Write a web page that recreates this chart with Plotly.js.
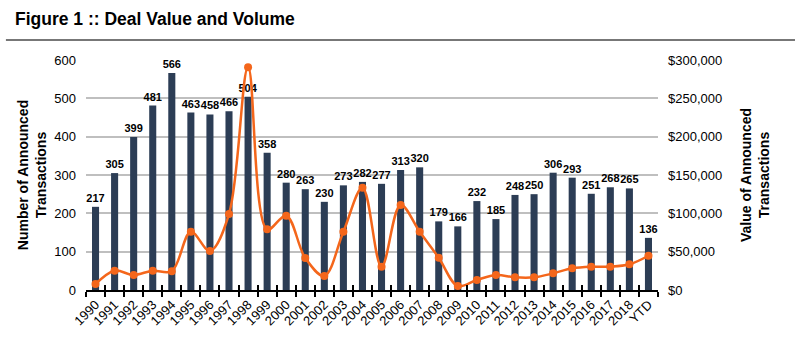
<!DOCTYPE html>
<html>
<head>
<meta charset="utf-8">
<script src="https://cdn.plot.ly/plotly-3.0.1.min.js"></script>
<style>html,body{margin:0;padding:0;background:#fff;}#chart{width:809px;height:361px;}</style>
</head>
<body>
<div id="chart"></div>
<script>
var categories = ["1990","1991","1992","1993","1994","1995","1996","1997","1998","1999","2000","2001","2002","2003","2004","2005","2006","2007","2008","2009","2010","2011","2012","2013","2014","2015","2016","2017","2018","YTD"];
var dealCount = [217,305,399,481,566,463,458,466,504,358,280,263,230,273,282,277,313,320,179,166,232,185,248,250,306,293,251,268,265,136];
var dealValue = [7800,25200,19600,25200,24500,76000,50900,99100,290500,79100,96900,41700,18300,76000,133400,30400,110900,76000,42100,5200,13000,19600,16500,16500,21700,28300,30400,30400,33500,44700];
var leftTicks = [0,100,200,300,400,500,600];
var rightTicks = [0,50000,100000,150000,200000,250000,300000];
var rightTickText = ["$0","$50,000","$100,000","$150,000","$200,000","$250,000","$300,000"];

var navy = "#2c3d55";
var orange = "#f4661b";

var traces = [
  {
    type: "bar", x: categories, y: dealCount, marker: {color: navy},
    text: dealCount.map(String), textposition: "outside", cliponaxis: false, constraintext: "none",
    textfont: {family: "Liberation Sans, Arial", size: 11, color: "#000", weight: "bold"},
    hoverinfo: "none", xaxis: "x", yaxis: "y"
  },
  {
    type: "scatter", mode: "lines+markers", x: categories, y: dealValue,
    line: {color: orange, width: 2.5, shape: "spline", smoothing: 1},
    marker: {color: orange, size: 8},
    cliponaxis: false, hoverinfo: "none", xaxis: "x", yaxis: "y2"
  }
];

var tickFont = {family: "Liberation Sans, Arial", size: 13, color: "#000"};
var layout = {
  width: 809, height: 361,
  margin: {l: 86, r: 151, t: 60, b: 71},
  paper_bgcolor: "#fff", plot_bgcolor: "#fff",
  showlegend: false,
  bargap: 0.63,
  title: {text: "<b>Figure 1 :: Deal Value and Volume</b>", x: 15/809, xref: "container", xanchor: "left", y: 1 - 19/361, yref: "container", yanchor: "middle",
          font: {family: "Liberation Sans, Arial", size: 17.5, color: "#000"}, pad: {l: 0, t: 0, b: 0, r: 0}},
  xaxis: {
    type: "category", range: [-0.5, 29.5], tickangle: -45, tickfont: tickFont,
    showline: true, linecolor: "#000", linewidth: 2,
    ticks: "outside", ticklen: 5, tickwidth: 2, tickcolor: "#000", tickson: "boundaries",
    showgrid: false, zeroline: false, fixedrange: true
  },
  xaxis2: {
    type: "category", range: [-0.5, 29.5], overlaying: "x", matches: "x", side: "bottom",
    ticks: "inside", ticklen: 5, tickwidth: 2, tickcolor: "#000", tickson: "boundaries",
    showticklabels: false, showline: false, showgrid: false, zeroline: false
  },
  yaxis: {
    range: [0, 600], tickvals: leftTicks, tickfont: tickFont, ticklabelstandoff: 9,
    showgrid: true, gridcolor: "#bfbfbf", gridwidth: 2, zeroline: false, showline: false,
    ticks: "", ticklen: 0, automargin: false,
    title: {text: "<b>Number of Announced<br>Transactions</b>", font: {family: "Liberation Sans, Arial", size: 14, color: "#000"}, standoff: 4}
  },
  yaxis2: {
    range: [0, 300000], overlaying: "y", side: "right", tickvals: rightTicks, ticktext: rightTickText,
    tickfont: tickFont, ticklabelstandoff: 9, showgrid: false, zeroline: false, showline: false, automargin: false,
    title: {text: "<b>Value of Announced<br>Transactions</b>", font: {family: "Liberation Sans, Arial", size: 14, color: "#000"}, standoff: 19}
  },
  shapes: [
    {type: "line", xref: "paper", yref: "paper", x0: -0.14, x1: 1.2395, y0: 1.087, y1: 1.087, line: {color: "#777", width: 2}}
  ]
};

// empty trace so the second x axis (inner tick halves) is rendered
traces.push({type: "scatter", x: categories, y: dealCount.map(function(){return null;}), xaxis: "x2", yaxis: "y", hoverinfo: "none", showlegend: false});

Plotly.newPlot("chart", traces, layout, {displayModeBar: false, staticPlot: true});
</script>
</body>
</html>
